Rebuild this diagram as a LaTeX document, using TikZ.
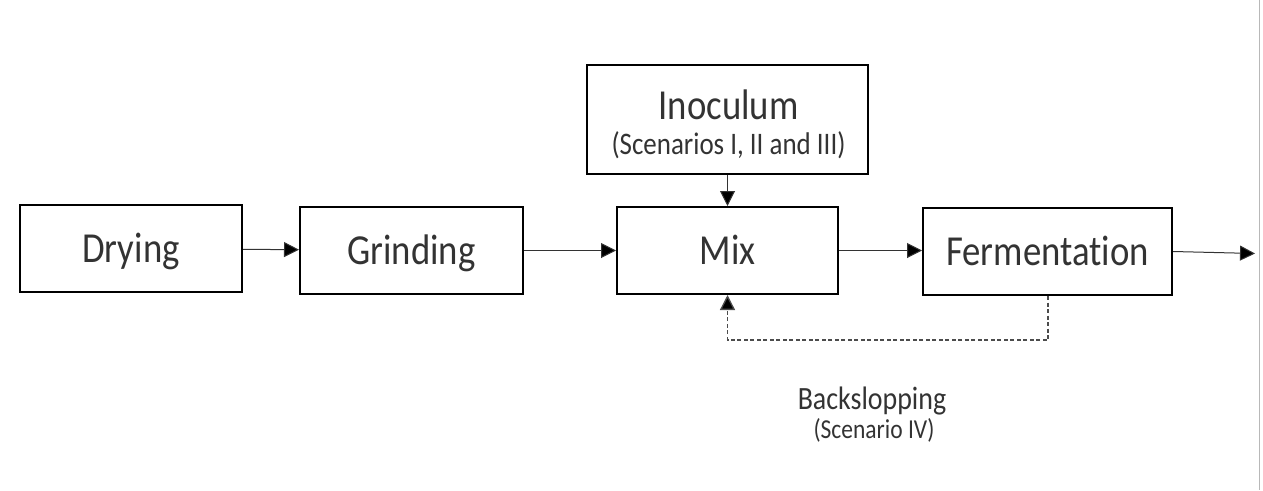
\documentclass[tikz,border=0pt]{standalone}
\usepackage{fontspec}
\usepackage{graphicx}
\setmainfont{Carlito}[Ligatures=NoCommon]
\usetikzlibrary{arrows.meta}
\newcommand\tallt[1]{\scalebox{0.98}[1.14]{#1}}
\begin{document}
\begin{tikzpicture}[x=1pt,y=-1pt,
  txt/.style={text=black!80},
  box/.style={draw=black, line width=2pt, minimum width=#1, minimum height=87pt,
    inner sep=0pt, text height=27pt, text depth=0pt, txt,
    font=\fontsize{37.5pt}{44pt}\selectfont},
  flow/.style={draw=black!80, line width=1pt, -{Triangle[length=15pt,width=15pt,fill=black]}},
  back/.style={draw=black!70, line width=1.3pt, dash pattern=on 4pt off 2.5pt,
    -{Triangle[length=15pt,width=15pt,fill=black]}},
  small/.style={txt, inner sep=0pt, anchor=base, font=\fontsize{27.5pt}{32pt}\selectfont},
  smaller/.style={txt, inner sep=0pt, anchor=base, font=\fontsize{24pt}{28pt}\selectfont}]
\useasboundingbox (0,0) rectangle (1263,490);
\draw[black!28, line width=1pt] (1259,0) -- (1259,490);

\node[box=222pt] (dry) at (131,248.5) {\tallt{Drying}};
\node[box=223pt] (grind) at (411.5,250.5) {\tallt{Grinding}};
\node[box=221pt] (mix) at (727.5,250.5) {\tallt{Mix}};
\node[box=249pt] (ferm) at (1047.5,251.5) {\tallt{Fermentation}};
\node[box=281pt, minimum height=109pt] (inoc) at (727.5,119.5) {};
\node[txt, inner sep=0pt, anchor=base, font=\fontsize{37.5pt}{44pt}\selectfont] (inoctitle) at (728.5,119) {\tallt{Inoculum}};
\node[small] (inocsub) at (728.5,154) {\tallt{(Scenarios I, II and III)}};

\coordinate (out) at (1255,253.5);
\coordinate (c1) at (1048,340);
\coordinate (c2) at (727.5,340);

\draw[flow] (dry) -- (grind);
\draw[flow] (grind) -- (mix);
\draw[flow] (mix.east) -- (mix.east -| ferm.west);
\draw[flow] (ferm.east) -- (out);
\draw[flow] (inoc) -- (mix);
\draw[back] (ferm.south -| c1) -- (c1) -- (c2) -- (mix.south);

\node[small, font=\fontsize{28.5pt}{33pt}\selectfont] (backsl) at (872,409) {\tallt{Backslopping}};
\node[smaller] (scen) at (874,438) {\tallt{(Scenario IV)}};
\end{tikzpicture}
\end{document}
